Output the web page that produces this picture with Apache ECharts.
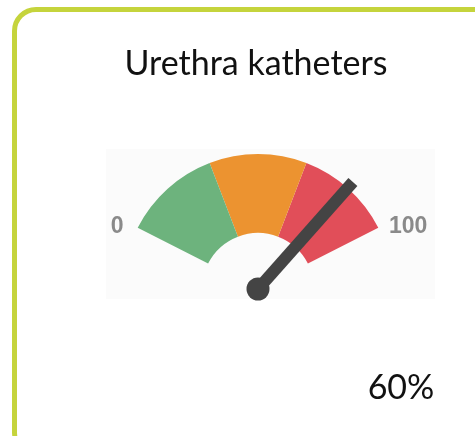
<!DOCTYPE html>
<html>
<head>
<meta charset="utf-8">
<script src="https://cdn.jsdelivr.net/npm/echarts@6/dist/echarts.min.js"></script>
<style>
  html, body { margin: 0; padding: 0; background: #fff; }
  #card {
    position: absolute; left: 12px; top: 7px; width: 490px; height: 450px;
    box-sizing: border-box; border: 5px solid #c5d43c; border-radius: 24px;
  }
  #chart { position: absolute; left: 0; top: 0; width: 475px; height: 436px; }
</style>
</head>
<body>
<div id="card"></div>
<div id="chart"></div>
<script>
// chart values
const titleText = 'Urethra katheters';
const bandStops = [1 / 3, 2 / 3, 1];
const bandColors = ['#6db37d', '#ec9330', '#e14e59'];
const pointerValue = [83];
const shownPercent = [60];
const axisRange = [0, 100];

const chart = echarts.init(document.getElementById('chart'));

const option = {
  animation: false,
  title: [
    {
      text: titleText,
      left: 251,
      top: 42,
      textAlign: 'center',
      textStyle: { fontFamily: 'Lato', fontWeight: 'normal', fontSize: 34, color: '#111' }
    },
    {
      text: shownPercent[0] + '%',
      left: 396,
      top: 366,
      textAlign: 'center',
      textStyle: { fontFamily: 'Lato', fontWeight: 'normal', fontSize: 34, color: '#111' }
    }
  ],
  graphic: [
    {
      type: 'rect',
      z: -10,
      shape: { x: 106, y: 149, width: 329, height: 150 },
      style: { fill: '#fbfbfb' }
    }
  ],
  series: [
    {
      type: 'gauge',
      center: [258, 289],
      radius: 135,
      startAngle: 153,
      endAngle: 27,
      min: axisRange[0],
      max: axisRange[1],
      axisLine: {
        lineStyle: {
          width: 79,
          color: bandStops.map((s, i) => [s, bandColors[i]])
        }
      },
      axisTick: { show: false },
      splitLine: { show: false },
      axisLabel: { show: false },
      pointer: {
        icon: 'rect',
        width: 12,
        length: 143,
        offsetCenter: [0, 0],
        itemStyle: { color: '#444' }
      },
      anchor: {
        show: true,
        showAbove: true,
        size: 23,
        itemStyle: { color: '#444' }
      },
      title: { show: false },
      detail: { show: false },
      data: [{ value: pointerValue[0] }]
    },
    {
      // end labels only
      type: 'gauge',
      center: [269, 289],
      radius: 170,
      startAngle: 158.6,
      endAngle: 21.4,
      min: axisRange[0],
      max: axisRange[1],
      splitNumber: 1,
      axisLine: { show: false, lineStyle: { width: 0 } },
      axisTick: { show: false },
      splitLine: { show: false, length: 0, distance: 0 },
      axisLabel: {
        distance: 0,
        color: '#8a8a8a',
        fontFamily: 'Liberation Sans',
        fontWeight: 'bold',
        fontSize: 23
      },
      pointer: { show: false },
      anchor: { show: false },
      title: { show: false },
      detail: { show: false },
      data: []
    }
  ]
};

chart.setOption(option);
</script>
</body>
</html>
